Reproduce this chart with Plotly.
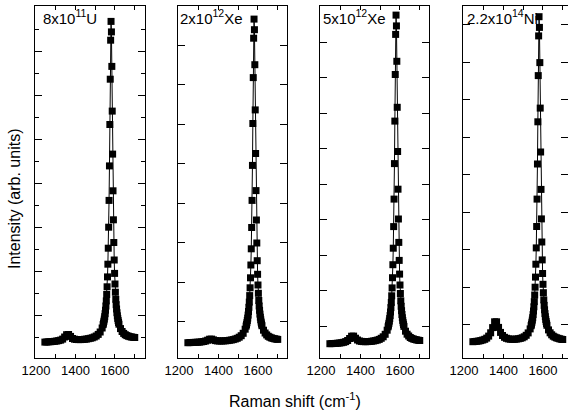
import plotly.graph_objects as go

# Raman shift grid (cm^-1), shared by the four spectra
raman_shift = [1245, 1255, 1265, 1275, 1285, 1295, 1305, 1315, 1325, 1335,
               1345, 1355, 1365, 1375, 1385, 1395, 1405, 1415, 1425, 1435,
               1445, 1455, 1465, 1475, 1485, 1495, 1505, 1515, 1525, 1535,
               1540, 1542, 1544, 1546, 1548, 1550, 1552, 1554, 1556, 1558,
               1560, 1562, 1564, 1566, 1568, 1570, 1572, 1574, 1576, 1578,
               1580, 1582, 1584, 1586, 1588, 1590, 1592, 1594, 1596, 1598,
               1600, 1602, 1604, 1606, 1608, 1610, 1612, 1614, 1616, 1618,
               1620, 1628, 1636, 1644, 1652, 1660, 1668, 1676, 1684, 1692, 1700]

int_u = [15.9, 16.0, 16.2, 16.3, 16.5, 16.7, 17.0, 17.4, 17.9, 18.9,
         21.0, 23.3, 23.5, 21.6, 19.5, 18.8, 18.5, 18.4, 18.4, 18.5,
         18.7, 18.9, 19.3, 19.7, 20.2, 21.0, 22.0, 23.6, 26.0, 30.0,
         33.4, 34.9, 36.8, 38.9, 41.3, 44.3, 47.8, 52.0, 57.1, 63.5,
         71.2, 81.1, 93.8, 109.8, 130.8, 157.6, 192.1, 233.5, 278.8, 317.8,
         336.6, 326.1, 291.6, 246.9, 203.9, 167.2, 138.2, 115.5, 98.0, 84.6,
         74.0, 65.8, 58.7, 53.3, 49.0, 45.3, 42.2, 39.6, 37.4, 35.5,
         33.8, 29.4, 26.5, 24.6, 23.3, 22.4, 21.8, 21.3, 21.0, 20.7, 20.5]

int_xe2 = [15.3, 15.4, 15.5, 15.6, 15.7, 15.8, 15.9, 16.2, 16.5, 17.0,
           17.8, 18.8, 18.9, 18.1, 17.4, 17.1, 17.0, 17.0, 17.1, 17.2,
           17.4, 17.7, 18.0, 18.4, 19.0, 19.7, 20.8, 22.3, 24.7, 28.8,
           31.9, 33.4, 35.3, 37.5, 39.9, 42.9, 46.5, 50.7, 55.9, 62.4,
           70.2, 80.2, 93.0, 109.2, 130.5, 157.6, 192.6, 234.5, 280.4, 319.8,
           338.9, 328.3, 293.3, 248.1, 204.5, 167.4, 138.0, 115.0, 97.3, 83.7,
           73.0, 64.7, 57.5, 52.0, 47.7, 43.9, 40.8, 38.2, 35.9, 34.0,
           32.3, 27.8, 25.0, 23.1, 21.7, 20.8, 20.1, 19.6, 19.2, 18.9, 18.6]

int_xe5 = [14.3, 14.4, 14.5, 14.6, 14.8, 15.0, 15.3, 15.7, 16.4, 17.5,
           19.5, 21.8, 21.9, 19.8, 18.0, 17.0, 16.6, 16.4, 16.3, 16.4,
           16.5, 16.7, 17.0, 17.4, 17.9, 18.6, 19.7, 21.2, 23.7, 27.8,
           31.2, 32.8, 34.7, 36.9, 39.4, 42.4, 46.0, 50.4, 55.6, 62.2,
           70.1, 80.3, 93.3, 109.8, 131.4, 158.9, 194.4, 236.9, 283.5, 323.6,
           342.9, 332.1, 296.7, 250.7, 206.5, 168.8, 139.0, 115.6, 97.6, 83.9,
           73.0, 64.5, 57.2, 51.7, 47.3, 43.5, 40.3, 37.6, 35.3, 33.4,
           31.6, 26.8, 23.8, 22.0, 20.5, 19.6, 19.0, 18.5, 18.1, 17.8, 17.5]

int_ni = [16.3, 16.5, 16.7, 17.0, 17.4, 18.0, 18.7, 19.9, 21.9, 25.2,
          30.4, 36.2, 36.2, 30.6, 25.6, 22.5, 20.7, 19.7, 19.1, 18.8,
          18.7, 18.7, 18.9, 19.2, 19.6, 20.2, 21.2, 22.7, 25.1, 29.1,
          32.3, 33.8, 35.8, 37.9, 40.3, 43.4, 47.0, 51.2, 56.4, 63.0,
          70.8, 80.9, 93.8, 110.1, 131.5, 158.9, 194.0, 236.2, 282.4, 322.1,
          341.3, 330.6, 295.4, 249.9, 206.0, 168.6, 139.1, 116.0, 98.1, 84.5,
          73.7, 65.3, 58.1, 52.6, 48.2, 44.4, 41.3, 38.6, 36.4, 34.4,
          32.7, 28.1, 25.2, 23.2, 21.8, 20.9, 20.2, 19.7, 19.2, 18.8, 18.5]

labels = ["8x10<sup>11</sup>U", "2x10<sup>12</sup>Xe",
          "5x10<sup>12</sup>Xe", "2.2x10<sup>14</sup>Ni"]

spectra = [int_u, int_xe2, int_xe5, int_ni]

# layout in pixels
W, H = 568, 414
L, R, T, B = 35, 0, 6, 56
pw = W - L - R
panels_px = [(35, 145), (178, 287), (320, 429), (463, 568)]
px_per_unit = 0.1975
x0 = 1195
label_x = [1235, 1205, 1210, 1215]
label_y = 338
ytick0 = [43, 36.5, 32, 33.5]
ydtick = [44, 39.5, 35.5, 37.5]

FONT = "Liberation Sans, Arial, sans-serif"

fig = go.Figure()

for i in range(4):
    xa = "x" if i == 0 else f"x{i+1}"
    ya = "y" if i == 0 else f"y{i+1}"
    fig.add_trace(go.Scatter(
        x=[label_x[i]], y=[label_y], mode="text", text=[labels[i]],
        textposition="middle right", cliponaxis=False,
        textfont=dict(size=15, color="black", family=FONT),
        showlegend=False, hoverinfo="skip", xaxis=xa, yaxis=ya))
    fig.add_trace(go.Scatter(
        x=raman_shift, y=spectra[i], mode="lines+markers",
        line=dict(color="black", width=1),
        marker=dict(symbol="square", size=7, color="black"),
        showlegend=False, xaxis=xa, yaxis=ya))

    a, b = panels_px[i]
    xkey = "xaxis" if i == 0 else f"xaxis{i+1}"
    ykey = "yaxis" if i == 0 else f"yaxis{i+1}"
    fig.layout[xkey] = dict(
        domain=[(a - L) / pw, (b - L) / pw],
        range=[x0, x0 + (b - a) / px_per_unit],
        anchor=ya, showline=True, linecolor="black", linewidth=1,
        mirror="allticks", ticks="inside", ticklen=4, tickcolor="black",
        tick0=1200, dtick=200, showgrid=False, zeroline=False,
        tickfont=dict(size=13, color="black", family=FONT),
        minor=dict(tick0=1200, dtick=100, ticks="inside", ticklen=4,
                   tickcolor="black", showgrid=False))
    ydict = dict(
        domain=[0, 1], range=[0, 352], anchor=xa,
        showline=True, linecolor="black", linewidth=1,
        mirror="allticks" if i < 3 else False,
        ticks="inside", ticklen=7, tickcolor="black",
        tick0=ytick0[i], dtick=ydtick[i], showticklabels=False,
        showgrid=False, zeroline=False)
    if i == 0:
        ydict["minor"] = dict(tick0=21, dtick=22, ticks="inside", ticklen=4,
                              tickcolor="black", showgrid=False)
    fig.layout[ykey] = ydict

# right-hand ticks of the last panel (its border falls outside the picture)
fig.add_trace(go.Scatter(x=[], y=[], xaxis="x4", yaxis="y5", showlegend=False))
fig.layout["yaxis5"] = dict(
    overlaying="y4", anchor="x4", side="right", range=[0, 352],
    showline=False, ticks="inside", ticklen=7, tickcolor="black",
    tick0=ytick0[3], dtick=ydtick[3], showticklabels=False,
    showgrid=False, zeroline=False)

fig.add_annotation(text="Raman shift (cm<sup>-1</sup>)", xref="paper", yref="paper",
                   x=(295 - L) / pw, y=(H - B - 400) / (H - T - B),
                   xanchor="center", yanchor="middle", showarrow=False,
                   font=dict(size=16, color="black", family=FONT))
fig.add_annotation(text="Intensity (arb. units)", xref="paper", yref="paper",
                   x=(14 - L) / pw, y=(H - B - 199) / (H - T - B), textangle=-90,
                   xanchor="center", yanchor="middle", showarrow=False,
                   font=dict(size=16, color="black", family=FONT))

fig.update_layout(width=W, height=H, margin=dict(l=L, r=R, t=T, b=B),
                  plot_bgcolor="white", paper_bgcolor="white",
                  font=dict(family=FONT, color="black"))

# drop the browser's default page margin so the figure sits at the corner
fig.write_html("out.html", config={"displayModeBar": False},
               post_script="document.body.style.margin='0';")
